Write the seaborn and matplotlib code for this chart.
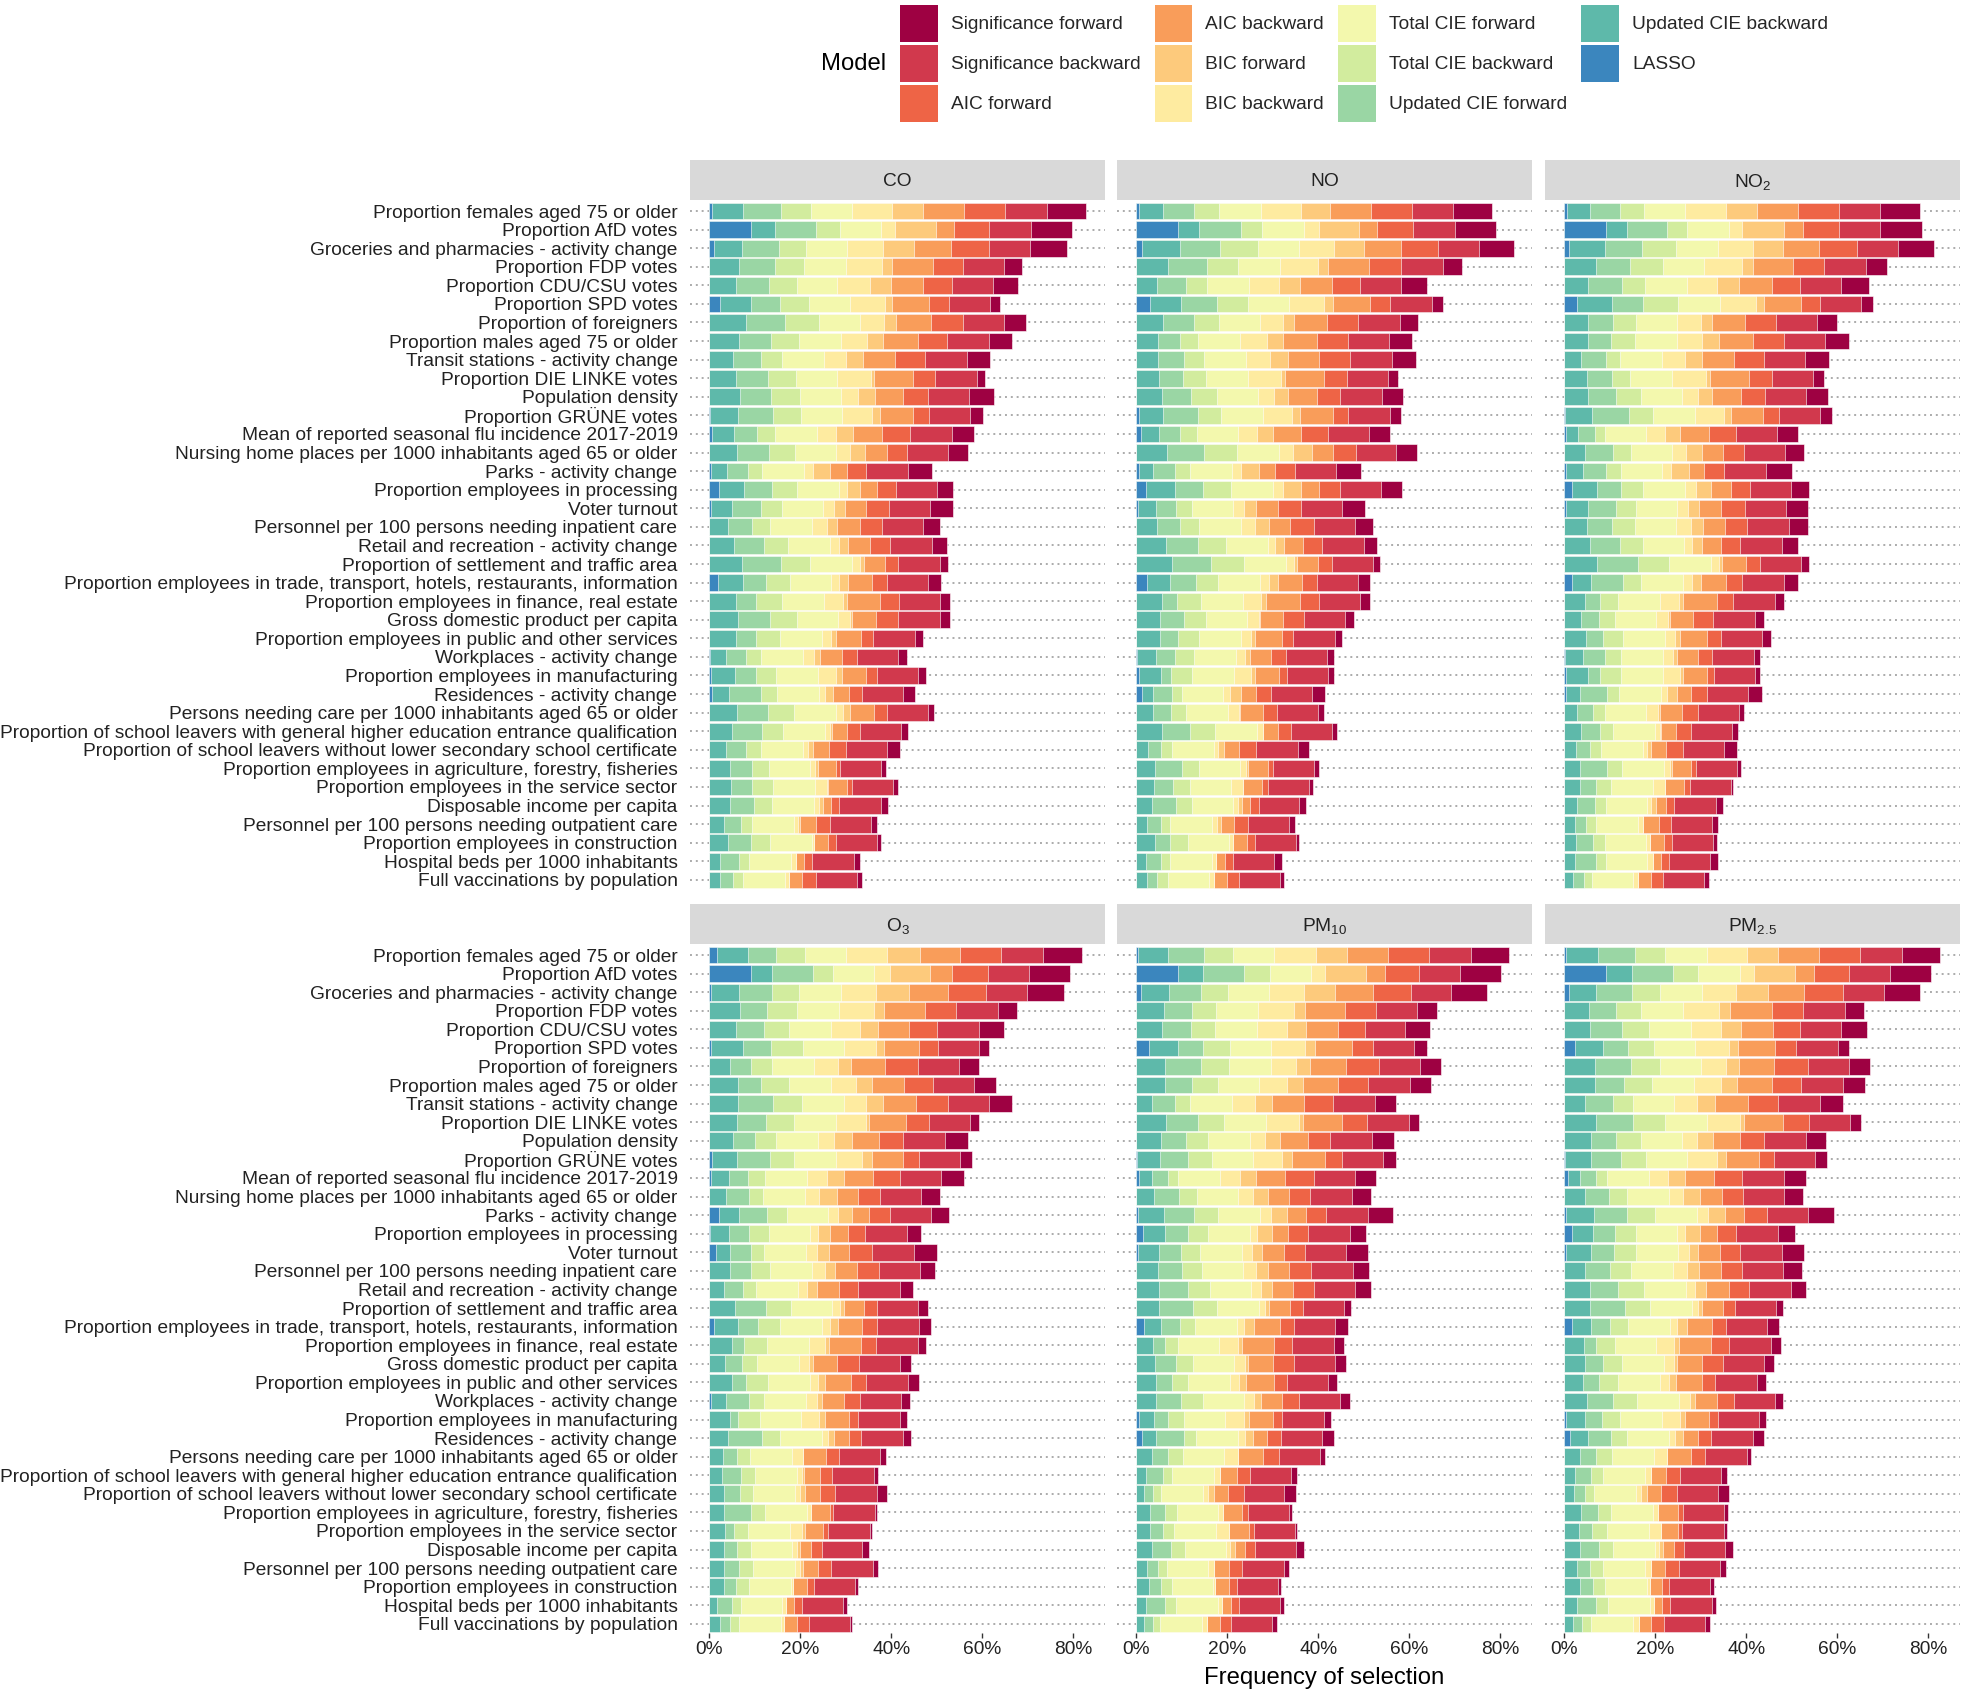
import numpy as np
import pandas as pd
import matplotlib
matplotlib.use("Agg")
import matplotlib.pyplot as plt
from matplotlib.patches import Patch
import seaborn as sns

variables = [
    "Proportion females aged 75 or older",
    "Proportion AfD votes",
    "Groceries and pharmacies - activity change",
    "Proportion FDP votes",
    "Proportion CDU/CSU votes",
    "Proportion SPD votes",
    "Proportion of foreigners",
    "Proportion males aged 75 or older",
    "Transit stations - activity change",
    "Proportion DIE LINKE votes",
    "Population density",
    "Proportion GRÜNE votes",
    "Mean of reported seasonal flu incidence 2017-2019",
    "Nursing home places per 1000 inhabitants aged 65 or older",
    "Parks - activity change",
    "Proportion employees in processing",
    "Voter turnout",
    "Personnel per 100 persons needing inpatient care",
    "Retail and recreation - activity change",
    "Proportion of settlement and traffic area",
    "Proportion employees in trade, transport, hotels, restaurants, information",
    "Proportion employees in finance, real estate",
    "Gross domestic product per capita",
    "Proportion employees in public and other services",
    "Workplaces - activity change",
    "Proportion employees in manufacturing",
    "Residences - activity change",
    "Persons needing care per 1000 inhabitants aged 65 or older",
    "Proportion of school leavers with general higher education entrance qualification",
    "Proportion of school leavers without lower secondary school certificate",
    "Proportion employees in agriculture, forestry, fisheries",
    "Proportion employees in the service sector",
    "Disposable income per capita",
    "Personnel per 100 persons needing outpatient care",
    "Proportion employees in construction",
    "Hospital beds per 1000 inhabitants",
    "Full vaccinations by population",
]

# stacking order, left to right
models = ["LASSO", "Updated CIE backward", "Updated CIE forward", "Total CIE backward",
          "Total CIE forward", "BIC backward", "BIC forward", "AIC backward",
          "AIC forward", "Significance backward", "Significance forward"]
colors = ["#3B86BE", "#5EB9AA", "#9AD6A4", "#D2EC9E", "#F3F8AD", "#FEEBA0",
          "#FDCA7C", "#F99D5A", "#EE6446", "#D1394D", "#9E0142"]

# frequency of selection (%) per variable, columns in the order of `models`
co = [
    [0.7, 6.8, 8.4, 6.4, 9.0, 9.0, 6.8, 9.0, 9.0, 9.1, 8.6],
    [9.2, 5.3, 8.9, 5.3, 9.1, 3.0, 9.0, 4.0, 7.8, 9.2, 8.9],
    [1.1, 6.2, 8.1, 5.8, 9.2, 7.9, 6.8, 8.1, 8.4, 9.0, 8.1],
    [0, 6.6, 7.9, 6.3, 9.2, 8.1, 2.0, 9.0, 6.6, 9.2, 3.9],
    [0, 5.9, 7.2, 6.2, 8.9, 7.2, 4.5, 7.0, 6.4, 9.0, 5.6],
    [2.4, 6.8, 6.4, 6.4, 9.0, 7.7, 1.6, 8.1, 4.3, 9.1, 2.2],
    [0, 8.1, 8.5, 7.5, 9.1, 5.3, 2.6, 7.7, 7.0, 9.1, 4.7],
    [0, 6.6, 7.0, 6.1, 9.2, 5.9, 3.4, 7.6, 6.5, 9.1, 5.1],
    [0, 5.3, 6.0, 4.8, 9.1, 4.8, 3.8, 7.0, 6.7, 9.2, 5.0],
    [0, 5.9, 7.1, 6.0, 9.0, 7.5, 0.7, 8.5, 5.0, 9.2, 1.8],
    [0, 6.7, 7.0, 6.2, 9.1, 3.7, 3.7, 6.2, 5.5, 9.1, 5.4],
    [0.3, 6.0, 7.7, 6.1, 9.1, 6.6, 1.8, 7.2, 3.5, 9.1, 2.7],
    [0.6, 4.8, 5.1, 4.0, 9.1, 4.3, 3.7, 6.4, 6.2, 9.2, 4.8],
    [0, 6.2, 7.0, 5.6, 9.1, 3.1, 3.2, 4.8, 4.5, 9.1, 4.2],
    [0.5, 3.4, 4.7, 3.1, 9.1, 2.1, 3.6, 3.7, 4.3, 9.2, 5.2],
    [2.1, 5.6, 6.2, 5.5, 9.2, 1.7, 2.9, 3.7, 4.1, 9.0, 3.6],
    [0.4, 4.7, 6.4, 4.5, 9.1, 2.4, 2.4, 4.5, 5.1, 9.1, 5.0],
    [0, 4.1, 5.3, 4.0, 9.2, 3.2, 2.4, 4.9, 4.8, 9.2, 3.7],
    [0, 5.4, 6.6, 5.3, 9.2, 2.0, 2.0, 4.8, 4.5, 9.2, 3.3],
    [0, 7.3, 8.5, 6.4, 9.2, 1.8, 0.9, 4.5, 2.9, 9.2, 1.8],
    [1.9, 5.6, 4.9, 5.3, 9.1, 1.7, 2.0, 5.3, 3.3, 9.0, 2.8],
    [0, 5.8, 4.6, 5.6, 9.2, 4.2, 0.9, 7.3, 4.2, 9.0, 2.1],
    [0, 6.4, 7.0, 5.9, 9.0, 2.6, 0.6, 5.2, 4.8, 9.2, 2.3],
    [0, 5.8, 4.4, 5.4, 9.2, 2.0, 1.1, 5.5, 2.7, 9.2, 1.8],
    [0.2, 3.5, 4.5, 3.3, 9.1, 2.5, 1.2, 4.8, 3.3, 9.1, 2.0],
    [0.5, 5.1, 4.6, 4.5, 9.2, 4.0, 1.3, 5.3, 2.4, 9.0, 1.7],
    [0.6, 3.7, 7.0, 3.7, 9.2, 1.3, 1.8, 3.4, 2.9, 9.1, 2.6],
    [0, 6.1, 6.8, 5.8, 9.2, 1.6, 1.5, 5.3, 2.9, 9.0, 1.3],
    [0, 5.1, 6.6, 4.5, 9.2, 1.2, 0.4, 3.3, 2.9, 9.0, 1.4],
    [0, 3.7, 4.5, 3.3, 9.2, 1.0, 1.1, 3.5, 3.7, 9.0, 2.9],
    [0, 4.6, 4.8, 3.7, 9.1, 1.0, 0.7, 4.0, 0.9, 9.0, 1.0],
    [0, 4.8, 4.6, 4.7, 9.2, 2.5, 0.4, 4.0, 1.2, 9.1, 1.0],
    [0, 4.5, 5.4, 4.0, 9.2, 1.0, 0.9, 1.8, 1.8, 9.2, 1.6],
    [0, 3.2, 3.7, 2.5, 9.2, 1.0, 0.4, 3.4, 3.1, 9.0, 1.3],
    [0, 4.2, 5.1, 4.1, 9.2, 0.4, 0, 3.1, 1.8, 9.1, 0.7],
    [0, 2.5, 4.1, 2.2, 9.2, 1.0, 0, 1.9, 1.8, 9.2, 1.2],
    [0, 2.3, 3.0, 2.1, 9.2, 1.0, 0, 2.9, 2.9, 9.0, 1.1],
]

no = [
    [0.6, 5.3, 6.8, 5.5, 9.2, 8.9, 6.4, 9.0, 8.9, 9.1, 8.4],
    [9.2, 4.7, 9.1, 4.7, 9.2, 3.2, 8.9, 4.0, 7.9, 9.2, 9.0],
    [1.2, 8.5, 8.7, 8.4, 9.1, 7.6, 6.6, 8.1, 8.1, 9.0, 7.8],
    [0, 7.0, 8.5, 7.0, 9.1, 8.4, 2.2, 9.0, 7.0, 9.2, 4.2],
    [0, 4.6, 6.4, 4.5, 9.2, 6.8, 4.6, 7.0, 6.2, 9.0, 5.6],
    [3.1, 6.8, 7.8, 6.8, 9.2, 7.5, 2.0, 8.1, 4.5, 9.2, 2.4],
    [0, 5.9, 6.8, 5.5, 9.1, 5.0, 2.3, 7.3, 6.8, 9.2, 4.1],
    [0, 4.8, 4.8, 4.1, 9.2, 5.8, 3.5, 7.5, 6.8, 9.1, 5.1],
    [0, 4.9, 5.6, 4.5, 9.2, 5.2, 4.0, 6.8, 6.8, 9.2, 5.2],
    [0, 5.0, 5.3, 5.1, 9.1, 7.4, 0.9, 8.4, 5.2, 9.0, 2.2],
    [0, 5.7, 6.4, 5.6, 9.0, 3.7, 2.9, 6.4, 5.1, 9.2, 4.6],
    [0.6, 5.2, 7.7, 5.1, 9.2, 6.4, 1.8, 7.3, 3.3, 9.2, 2.5],
    [1.1, 4.0, 4.5, 3.8, 9.1, 4.0, 3.5, 6.2, 5.9, 9.1, 4.6],
    [0, 6.7, 8.2, 7.2, 9.2, 3.1, 4.2, 4.7, 5.0, 8.9, 4.5],
    [0.6, 3.2, 4.8, 3.3, 9.2, 2.0, 3.8, 3.7, 4.4, 9.0, 5.4],
    [2.2, 6.4, 6.2, 6.1, 9.2, 2.1, 4.1, 4.0, 4.4, 9.2, 4.5],
    [0.4, 3.9, 4.5, 3.4, 9.2, 2.4, 2.6, 4.8, 5.0, 9.1, 5.1],
    [0, 4.6, 5.1, 4.2, 9.2, 3.1, 2.9, 4.8, 5.1, 9.2, 3.8],
    [0, 6.5, 7.0, 6.2, 9.2, 1.6, 1.9, 4.2, 4.2, 9.2, 3.0],
    [0, 7.8, 8.7, 7.3, 9.1, 1.8, 0.6, 4.6, 3.1, 9.0, 1.6],
    [2.3, 5.1, 5.8, 4.8, 9.2, 1.9, 2.0, 5.4, 3.2, 9.0, 2.6],
    [0, 5.6, 3.4, 5.3, 9.1, 4.1, 1.0, 7.5, 4.2, 9.1, 2.2],
    [0, 5.3, 5.3, 4.7, 9.1, 2.6, 0.2, 5.1, 4.6, 9.1, 1.9],
    [0, 5.3, 4.0, 4.6, 9.1, 2.2, 0.9, 5.9, 2.4, 9.2, 1.7],
    [0.2, 4.1, 4.3, 4.1, 9.2, 2.1, 1.0, 4.7, 3.2, 9.0, 1.5],
    [0.6, 4.9, 2.1, 4.7, 9.2, 3.7, 0.9, 5.3, 1.8, 9.0, 1.2],
    [1.3, 2.4, 4.2, 2.1, 9.2, 1.4, 2.4, 3.3, 3.3, 9.1, 2.8],
    [0, 3.7, 4.0, 3.3, 9.2, 2.5, 0.1, 5.1, 3.1, 9.0, 1.2],
    [0, 5.7, 6.2, 5.4, 9.2, 1.3, 0, 3.3, 2.9, 9.1, 1.0],
    [0, 2.6, 2.9, 2.4, 9.2, 1.0, 1.3, 3.3, 3.7, 9.1, 2.5],
    [0, 4.2, 5.9, 3.7, 9.1, 1.2, 0.4, 4.4, 1.1, 9.1, 1.0],
    [0, 4.0, 4.2, 3.6, 9.1, 2.5, 0, 4.2, 1.3, 9.2, 0.7],
    [0, 3.5, 5.3, 3.4, 9.2, 1.0, 0.8, 1.8, 1.9, 9.0, 1.4],
    [0, 2.5, 2.9, 2.1, 9.2, 1.0, 0.9, 2.9, 3.1, 9.0, 1.4],
    [0, 4.1, 3.4, 3.8, 9.2, 0.7, 0, 3.2, 1.7, 9.1, 0.7],
    [0, 2.2, 3.2, 2.0, 9.2, 1.0, 0, 2.0, 1.8, 9.0, 1.6],
    [0, 2.3, 2.3, 2.3, 9.2, 1.0, 0, 2.9, 2.6, 9.0, 1.0],
]

no2 = [
    [0.6, 5.1, 6.5, 5.3, 9.1, 9.0, 6.7, 9.2, 9.0, 9.0, 8.6],
    [9.1, 4.7, 8.9, 4.4, 9.1, 3.0, 9.1, 4.1, 8.1, 9.0, 9.1],
    [1.0, 7.9, 8.2, 7.5, 9.2, 7.6, 6.6, 8.0, 8.3, 9.0, 7.9],
    [0, 7.1, 7.3, 7.3, 9.1, 8.4, 2.2, 9.0, 6.8, 9.1, 4.6],
    [0, 5.2, 7.6, 4.9, 9.2, 6.7, 4.8, 7.3, 6.2, 9.0, 6.0],
    [2.8, 7.8, 6.8, 7.7, 9.2, 7.8, 1.8, 8.1, 4.2, 9.1, 2.5],
    [0, 5.3, 5.5, 5.1, 9.0, 5.1, 2.4, 7.3, 6.8, 9.0, 4.4],
    [0, 5.3, 5.0, 5.2, 9.2, 5.6, 3.8, 7.5, 6.7, 9.1, 5.3],
    [0, 3.8, 5.3, 3.2, 9.2, 5.1, 3.6, 7.2, 6.5, 9.1, 5.3],
    [0, 5.1, 5.5, 3.9, 9.1, 7.5, 1.0, 8.6, 4.9, 9.2, 2.3],
    [0, 5.3, 6.2, 5.3, 9.2, 3.4, 3.1, 6.4, 5.3, 9.0, 4.8],
    [0.2, 5.9, 8.1, 5.3, 9.2, 6.5, 1.5, 7.0, 3.5, 9.0, 2.7],
    [0.5, 2.6, 3.7, 2.1, 9.2, 4.1, 3.2, 6.4, 5.9, 9.1, 4.6],
    [0, 4.6, 6.1, 3.9, 9.1, 3.1, 3.4, 4.8, 4.5, 9.1, 4.2],
    [0.4, 3.7, 5.2, 3.2, 9.1, 1.9, 4.0, 3.3, 4.4, 9.1, 5.7],
    [1.8, 5.5, 5.1, 5.0, 9.2, 2.3, 3.4, 4.4, 4.2, 9.0, 4.0],
    [0.4, 4.8, 6.3, 4.3, 9.0, 2.4, 2.5, 4.8, 5.2, 9.1, 4.7],
    [0, 5.1, 5.5, 5.0, 9.0, 3.3, 2.6, 4.8, 4.9, 9.2, 4.1],
    [0, 5.7, 6.5, 5.1, 9.1, 1.6, 2.3, 4.2, 4.2, 9.1, 3.7],
    [0, 7.3, 9.0, 6.7, 9.2, 1.8, 0.8, 5.1, 3.1, 9.1, 1.8],
    [1.8, 4.2, 6.9, 4.1, 9.2, 1.8, 2.1, 5.5, 3.6, 9.1, 3.0],
    [0, 4.7, 3.2, 4.0, 9.2, 4.2, 0.9, 7.3, 3.6, 9.2, 2.1],
    [0, 3.7, 3.9, 3.5, 9.2, 2.5, 0.4, 5.1, 4.5, 9.2, 2.0],
    [0, 4.8, 3.7, 4.5, 9.1, 2.2, 1.1, 6.0, 3.0, 9.0, 2.1],
    [0.1, 4.0, 4.8, 3.7, 9.2, 2.1, 1.0, 4.5, 3.2, 9.1, 1.4],
    [0.4, 4.8, 2.6, 4.7, 9.2, 3.8, 0.7, 5.1, 1.7, 9.0, 1.0],
    [0.5, 2.9, 6.0, 2.7, 9.1, 1.5, 2.1, 3.1, 3.4, 9.2, 2.9],
    [0, 2.9, 3.4, 2.6, 9.1, 2.6, 0.4, 4.9, 3.5, 9.0, 1.2],
    [0, 3.7, 4.1, 2.9, 9.2, 1.2, 0.2, 3.2, 3.3, 9.2, 1.3],
    [0, 2.7, 3.0, 2.4, 9.2, 1.0, 0.8, 3.3, 3.7, 9.1, 2.7],
    [0, 3.6, 5.9, 3.3, 9.2, 1.2, 0.4, 4.3, 1.0, 9.0, 1.0],
    [0, 3.6, 3.4, 3.4, 9.2, 2.5, 0, 4.2, 1.3, 9.1, 0.4],
    [0, 2.9, 3.8, 2.4, 9.2, 0.9, 0.9, 2.2, 1.8, 9.2, 1.6],
    [0, 2.3, 2.6, 2.1, 9.2, 1.2, 0, 3.4, 2.6, 9.2, 1.2],
    [0, 2.7, 3.6, 2.6, 9.2, 0.7, 0, 3.1, 1.8, 9.0, 0.8],
    [0, 2.5, 4.5, 2.1, 9.2, 1.2, 0, 1.8, 1.8, 9.0, 1.8],
    [0, 2.0, 2.3, 1.8, 9.1, 1.0, 0, 2.9, 2.6, 9.0, 1.2],
]

o3 = [
    [1.8, 6.7, 6.2, 6.4, 9.0, 9.0, 7.2, 8.9, 9.0, 9.1, 8.6],
    [9.2, 4.7, 8.9, 4.4, 9.0, 3.5, 8.9, 4.7, 7.9, 9.2, 8.9],
    [0.4, 6.2, 7.3, 5.9, 9.2, 7.7, 7.3, 8.4, 8.4, 9.1, 8.1],
    [0, 6.7, 6.0, 6.6, 9.2, 7.7, 2.2, 9.0, 6.8, 9.2, 4.2],
    [0, 5.9, 6.2, 5.5, 9.2, 6.4, 4.0, 6.8, 6.1, 9.2, 5.5],
    [0.4, 7.0, 6.2, 7.0, 9.1, 7.0, 1.8, 7.7, 4.0, 9.2, 2.2],
    [0, 4.5, 4.8, 4.5, 9.2, 5.3, 2.9, 7.5, 7.3, 9.0, 4.4],
    [0, 6.3, 5.2, 6.1, 9.1, 5.6, 3.4, 7.2, 6.4, 9.0, 4.8],
    [0, 6.3, 7.8, 6.3, 9.2, 4.9, 3.7, 7.3, 7.0, 9.0, 5.1],
    [0, 6.1, 6.4, 6.2, 9.2, 6.6, 0.7, 8.1, 5.1, 9.0, 2.0],
    [0, 5.3, 4.8, 4.6, 9.2, 3.6, 4.0, 5.9, 5.3, 9.1, 5.1],
    [0.6, 5.5, 7.3, 5.3, 9.1, 5.8, 2.1, 6.8, 3.7, 9.0, 2.6],
    [0.5, 3.9, 4.2, 3.7, 9.2, 4.5, 3.7, 6.4, 5.9, 9.0, 5.1],
    [0, 3.7, 5.0, 3.2, 9.2, 3.1, 3.8, 4.8, 4.7, 9.1, 4.2],
    [2.1, 4.4, 6.2, 4.4, 9.1, 2.1, 3.1, 3.7, 4.6, 9.0, 4.0],
    [0.3, 4.0, 4.4, 4.4, 9.1, 1.8, 2.6, 3.9, 3.8, 9.2, 3.1],
    [1.5, 3.1, 4.5, 2.9, 9.2, 2.6, 2.5, 4.5, 5.1, 9.2, 4.9],
    [0, 4.5, 4.7, 4.2, 9.2, 2.9, 2.2, 4.8, 4.8, 9.0, 3.4],
    [0, 3.2, 4.2, 2.9, 9.2, 2.1, 2.0, 5.0, 4.2, 9.2, 2.7],
    [0, 5.7, 6.9, 5.3, 9.1, 1.7, 0.9, 4.4, 2.9, 9.1, 2.1],
    [1.0, 5.3, 4.4, 4.9, 9.2, 1.7, 1.8, 5.3, 3.4, 9.2, 2.6],
    [0, 5.1, 2.6, 5.1, 9.2, 3.5, 0.9, 7.0, 3.3, 9.1, 1.8],
    [0, 3.5, 3.7, 3.3, 9.2, 2.3, 0.9, 5.3, 4.8, 9.0, 2.4],
    [0, 5.0, 3.1, 4.9, 9.2, 1.8, 1.5, 5.7, 3.3, 9.2, 2.5],
    [0.4, 3.4, 5.0, 3.3, 9.2, 2.3, 1.2, 4.8, 3.5, 9.1, 2.0],
    [0, 4.6, 1.8, 4.8, 9.0, 4.0, 1.3, 5.3, 2.0, 9.2, 1.5],
    [0, 4.2, 7.5, 3.8, 9.2, 1.4, 1.3, 3.4, 2.6, 9.2, 1.8],
    [0, 3.0, 3.1, 2.9, 9.2, 2.4, 0, 5.1, 2.9, 9.0, 1.2],
    [0, 2.8, 4.2, 3.1, 9.2, 1.2, 0.4, 3.5, 2.6, 9.2, 1.0],
    [0, 3.2, 3.5, 3.0, 9.2, 1.0, 1.1, 3.3, 3.3, 9.2, 2.3],
    [0, 3.2, 5.9, 3.2, 9.2, 0.9, 0.1, 4.0, 0.7, 9.2, 0.4],
    [0, 3.4, 2.0, 3.2, 9.2, 2.7, 0.5, 4.1, 1.0, 9.2, 0.4],
    [0, 3.3, 2.9, 2.9, 9.2, 1.0, 0.7, 2.5, 2.2, 9.0, 1.5],
    [0, 3.3, 3.2, 3.2, 9.2, 1.1, 0.6, 3.3, 2.9, 9.2, 1.1],
    [0, 3.2, 2.7, 2.9, 9.2, 0.4, 0, 3.1, 1.5, 9.1, 0.7],
    [0, 1.7, 3.4, 1.8, 9.2, 0.7, 0, 1.8, 1.8, 9.0, 1.0],
    [0, 2.4, 2.1, 2.1, 9.2, 0.7, 0, 2.9, 2.6, 9.0, 0.4],
]

pm10 = [
    [0.4, 6.6, 7.9, 6.5, 9.0, 9.2, 6.7, 9.0, 9.1, 9.1, 8.4],
    [9.2, 5.5, 8.9, 5.8, 9.0, 3.1, 9.0, 4.2, 7.4, 9.1, 9.0],
    [1.0, 6.2, 7.1, 5.9, 9.1, 7.5, 6.9, 8.3, 8.4, 8.9, 7.8],
    [0, 6.2, 6.0, 5.3, 9.2, 8.1, 2.3, 8.9, 6.8, 9.0, 4.3],
    [0, 5.7, 6.3, 5.3, 9.2, 6.7, 4.1, 7.0, 5.9, 9.0, 5.4],
    [2.9, 6.3, 5.6, 5.9, 9.0, 7.5, 2.1, 8.1, 4.6, 9.1, 2.9],
    [0, 6.4, 7.8, 6.2, 9.2, 5.5, 3.2, 7.8, 7.3, 9.0, 4.7],
    [0, 6.4, 5.9, 5.6, 9.2, 6.1, 3.5, 7.7, 6.6, 9.1, 4.8],
    [0, 3.4, 5.1, 3.4, 9.1, 5.1, 3.7, 7.0, 6.4, 9.2, 4.7],
    [0, 6.6, 7.0, 5.7, 9.2, 7.4, 0.7, 8.7, 5.4, 9.2, 2.2],
    [0, 5.4, 5.6, 4.8, 9.2, 3.4, 3.2, 6.1, 5.0, 9.2, 4.8],
    [0.2, 5.1, 6.2, 5.1, 9.0, 6.5, 2.2, 7.2, 3.7, 9.0, 2.9],
    [0.7, 2.9, 3.4, 2.3, 9.2, 4.4, 3.5, 6.3, 6.4, 9.0, 4.6],
    [0, 3.9, 5.5, 3.9, 9.1, 3.2, 3.4, 4.7, 4.5, 9.2, 4.2],
    [0.5, 5.6, 6.7, 5.3, 9.1, 2.4, 3.6, 4.1, 4.4, 9.2, 5.6],
    [1.5, 4.8, 5.0, 4.5, 9.2, 1.6, 3.2, 3.6, 4.4, 9.1, 3.7],
    [0.4, 4.6, 4.8, 4.3, 9.1, 2.2, 2.2, 4.8, 4.7, 9.0, 4.8],
    [0, 4.8, 5.2, 4.4, 9.0, 2.9, 2.6, 4.7, 4.8, 9.2, 3.5],
    [0, 5.1, 6.4, 4.7, 9.1, 2.1, 2.4, 4.6, 4.6, 9.2, 3.4],
    [0, 5.1, 7.5, 5.1, 9.2, 1.4, 0.9, 4.6, 2.8, 9.1, 1.5],
    [1.7, 3.7, 4.2, 3.3, 9.2, 1.7, 2.1, 5.7, 3.0, 9.2, 2.7],
    [0, 3.7, 2.6, 2.9, 9.1, 4.1, 0.9, 7.0, 4.0, 9.2, 2.1],
    [0, 4.2, 4.6, 3.6, 9.2, 2.4, 0.6, 5.5, 4.6, 9.0, 2.4],
    [0, 4.4, 3.4, 3.7, 9.1, 2.1, 1.4, 6.1, 2.9, 9.0, 2.1],
    [0, 4.4, 5.4, 4.8, 9.1, 2.2, 1.5, 4.6, 3.7, 9.2, 2.2],
    [0.6, 3.3, 3.1, 3.5, 9.1, 4.2, 1.0, 5.3, 2.0, 9.1, 1.6],
    [1.2, 3.2, 6.1, 2.7, 9.2, 1.5, 1.8, 3.1, 3.1, 9.0, 2.6],
    [0, 3.5, 3.4, 3.4, 9.1, 2.9, 0, 5.6, 3.4, 9.1, 1.1],
    [0, 2.1, 3.7, 2.1, 9.2, 1.4, 0, 3.7, 2.9, 9.0, 1.3],
    [0, 1.7, 2.1, 1.6, 9.2, 1.2, 1.3, 3.1, 3.4, 9.0, 2.6],
    [0, 3.1, 3.2, 2.6, 9.2, 1.1, 0, 4.1, 1.3, 9.0, 0.7],
    [0, 3.1, 2.8, 2.5, 9.1, 2.9, 0, 4.5, 0.9, 9.2, 0.4],
    [0, 3.4, 4.2, 3.1, 9.1, 0.9, 1.0, 2.2, 2.2, 9.1, 1.6],
    [0, 2.5, 2.4, 1.8, 9.2, 1.3, 0, 3.2, 2.9, 9.2, 1.2],
    [0, 2.8, 2.7, 2.3, 9.2, 0.4, 0, 3.1, 1.7, 9.0, 0.7],
    [0, 2.2, 4.1, 2.4, 9.2, 0.9, 0, 2.1, 1.7, 9.0, 1.0],
    [0, 1.7, 2.1, 1.5, 9.2, 1.1, 0, 2.9, 2.4, 9.0, 1.0],
]

pm25 = [
    [0.4, 7.0, 8.1, 6.7, 9.2, 8.9, 6.7, 9.0, 9.1, 9.2, 8.2],
    [9.1, 5.9, 8.9, 5.6, 9.1, 3.1, 9.1, 4.2, 7.6, 9.0, 9.1],
    [1.0, 5.9, 8.0, 6.1, 9.2, 7.5, 7.0, 8.1, 8.4, 9.1, 7.9],
    [0, 5.5, 6.0, 5.4, 9.2, 8.0, 2.4, 9.1, 7.0, 9.2, 4.1],
    [0, 5.6, 7.2, 5.9, 9.1, 6.7, 4.4, 7.0, 5.9, 9.0, 5.8],
    [2.5, 6.0, 5.6, 5.6, 9.1, 7.5, 1.9, 8.2, 4.6, 9.2, 2.5],
    [0, 6.8, 7.8, 6.4, 9.1, 5.5, 2.9, 7.7, 7.3, 9.0, 4.7],
    [0, 6.7, 6.4, 6.3, 9.2, 5.9, 3.5, 7.7, 6.4, 9.1, 5.0],
    [0, 4.6, 6.2, 4.4, 9.0, 5.1, 3.8, 7.3, 6.7, 9.1, 5.0],
    [0, 7.1, 8.1, 7.0, 9.1, 7.4, 0.9, 8.6, 5.6, 9.0, 2.4],
    [0, 5.8, 5.7, 5.3, 9.2, 3.3, 3.4, 5.9, 5.3, 9.2, 4.5],
    [0.2, 5.8, 6.4, 5.5, 9.2, 6.4, 2.1, 7.3, 3.3, 9.0, 2.6],
    [0.8, 2.8, 3.3, 2.6, 9.1, 4.3, 3.7, 6.4, 6.2, 9.2, 4.8],
    [0, 4.5, 5.3, 4.0, 9.2, 3.1, 3.7, 4.8, 4.8, 9.0, 4.2],
    [0.4, 6.2, 7.3, 6.1, 9.2, 2.5, 3.7, 4.1, 5.1, 9.0, 5.7],
    [1.7, 4.7, 4.8, 4.5, 9.1, 1.8, 3.2, 3.7, 4.2, 9.2, 3.9],
    [0.4, 5.5, 5.0, 4.9, 9.2, 2.4, 2.1, 4.7, 4.5, 9.2, 4.8],
    [0, 4.6, 5.5, 4.6, 9.2, 3.2, 2.6, 4.8, 4.7, 9.0, 4.0],
    [0, 5.6, 6.2, 5.7, 9.2, 2.1, 2.3, 5.1, 4.5, 9.2, 3.3],
    [0, 5.6, 7.8, 5.4, 9.2, 1.4, 0.9, 4.6, 2.6, 9.1, 1.6],
    [1.8, 4.2, 4.0, 4.0, 9.2, 1.6, 2.2, 5.5, 3.0, 9.1, 2.6],
    [0, 4.4, 2.6, 4.1, 9.1, 4.0, 1.0, 7.1, 4.0, 9.2, 2.1],
    [0, 4.5, 4.0, 4.3, 9.1, 2.3, 0.7, 5.4, 4.7, 9.0, 2.1],
    [0, 4.2, 3.4, 4.2, 9.2, 2.1, 1.5, 5.7, 2.9, 9.1, 2.1],
    [0, 5.1, 5.7, 5.3, 9.1, 2.4, 1.2, 4.8, 3.7, 9.1, 1.8],
    [0.5, 4.2, 3.6, 4.0, 9.2, 4.0, 1.0, 5.3, 2.0, 9.1, 1.5],
    [1.3, 4.0, 5.1, 3.5, 9.2, 1.3, 1.8, 3.2, 2.9, 9.1, 2.6],
    [0, 3.4, 3.5, 3.7, 9.2, 2.9, 0, 5.1, 3.2, 9.1, 1.0],
    [0, 2.5, 3.5, 2.6, 9.2, 1.4, 0, 3.3, 2.9, 9.0, 1.4],
    [0, 2.1, 2.6, 1.9, 9.2, 1.2, 1.3, 3.1, 3.5, 9.0, 2.3],
    [0, 3.7, 3.8, 2.9, 9.2, 1.1, 0, 4.3, 1.1, 9.1, 0.9],
    [0, 3.3, 2.9, 3.3, 9.2, 2.6, 0, 3.8, 0.9, 9.2, 0.6],
    [0, 3.6, 4.0, 3.2, 9.2, 0.8, 1.0, 2.4, 2.2, 9.0, 1.7],
    [0, 2.9, 2.7, 2.9, 9.2, 1.3, 0, 3.2, 3.0, 9.1, 1.3],
    [0, 3.4, 2.9, 2.7, 9.2, 0.6, 0, 2.7, 1.5, 9.0, 1.0],
    [0, 2.9, 4.0, 2.8, 9.2, 0.9, 0, 1.8, 1.6, 9.2, 1.0],
    [0, 2.0, 2.0, 1.9, 9.2, 1.3, 0, 2.8, 2.8, 9.0, 1.1],
]

panels = [
    ("CO", co), (r"$\mathregular{NO}$", no), (r"$\mathregular{NO_2}$", no2),
    (r"$\mathregular{O_3}$", o3), (r"$\mathregular{PM_{10}}$", pm10), (r"$\mathregular{PM_{2.5}}$", pm25),
]


def long_frame(values):
    df = pd.DataFrame(values, columns=models)
    df.insert(0, "variable", variables)
    df = df.melt(id_vars="variable", var_name="model", value_name="freq")
    df["model"] = pd.Categorical(df["model"], models, ordered=True)
    df = df.sort_values(["variable", "model"])
    df["right"] = df.groupby("variable", sort=False)["freq"].cumsum()
    return df


sns.set_style("white")
plt.rcParams["font.family"] = ["Liberation Sans", "DejaVu Sans"]
text_col = "#222222"
fs = 13.8

W, H = 1961, 1695
fig = plt.figure(figsize=(W / 100, H / 100), dpi=100)

col_left = [690, 1117, 1545]
pan_w = 415
rows_px = [(200, 890, 160), (944, 1633, 904)]

for i, (name, vals) in enumerate(panels):
    r, c = divmod(i, 3)
    top, bot, strip_top = rows_px[r]
    ax = fig.add_axes([col_left[c] / W, (H - bot) / H, pan_w / W, (bot - top) / H])
    df = long_frame(vals)
    # draw from the right end backwards so each layer shows its own segment
    for k in range(len(models) - 1, -1, -1):
        sub = df[df["model"] == models[k]]
        sns.barplot(data=sub, x="right", y="variable", order=variables, orient="h",
                    color=colors[k], saturation=1, width=0.9, errorbar=None,
                    edgecolor="white", linewidth=0.4, ax=ax)
    ax.set_xlim(-4.2, 87.0)
    ax.set_ylim(36 + (bot - top - 11 - 36 * 18.58) / 18.58, -11 / 18.58)
    ax.set_xlabel("")
    ax.set_ylabel("")
    for s in ax.spines.values():
        s.set_visible(False)
    ax.set_axisbelow(True)
    ax.yaxis.grid(True, color="#ababab", linestyle=(0, (1, 2)), linewidth=1.4)
    ax.xaxis.grid(False)
    ax.set_xticks([0, 20, 40, 60, 80])
    if r == 1:
        ax.set_xticklabels(["0%", "20%", "40%", "60%", "80%"])
        ax.tick_params(axis="x", bottom=True, length=3.6, width=1.0, color="#333333",
                       pad=2.5, labelsize=fs, labelcolor=text_col)
    else:
        ax.tick_params(axis="x", bottom=False, labelbottom=False)
    if c == 0:
        ax.tick_params(axis="y", left=False, pad=5.5, labelsize=fs, labelcolor=text_col)
    else:
        ax.tick_params(axis="y", left=False, labelleft=False)

    sax = fig.add_axes([col_left[c] / W, (H - top) / H, pan_w / W, (top - strip_top) / H])
    sax.set_facecolor("#D9D9D9")
    sax.set_xticks([])
    sax.set_yticks([])
    for s in sax.spines.values():
        s.set_visible(False)
    sax.text(0.5, 0.45, name, ha="center", va="center", fontsize=fs, color=text_col,
             transform=sax.transAxes)

fig.text((1117 + pan_w / 2) / W, 1 - 1678 / H, "Frequency of selection", ha="center",
         va="center", fontsize=17.2, color="black")

handles = [Patch(facecolor=colors[k], edgecolor="none", label=models[k])
           for k in range(len(models) - 1, -1, -1)]
fig.legend(handles=handles, ncol=4, loc="upper left", bbox_to_anchor=(900 / W, 1 - 5 / H),
           frameon=False, fontsize=fs, handlelength=1.96, handleheight=2.6,
           handletextpad=0.68, columnspacing=0.75, labelspacing=0.15,
           borderpad=0, borderaxespad=0)
fig.text(821 / W, 1 - 64 / H, "Model", ha="left", va="center", fontsize=17.2, color="black")

fig.savefig("out.png", dpi=100)
